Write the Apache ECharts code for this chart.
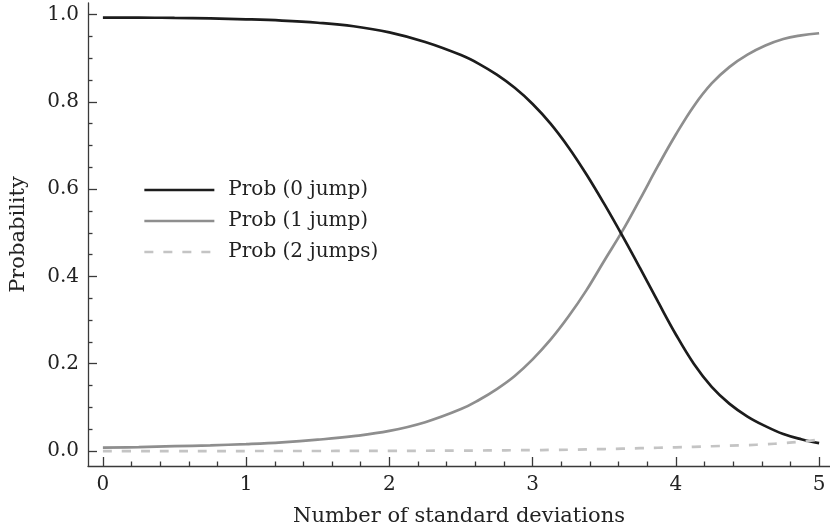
<!DOCTYPE html>
<html>
<head>
<meta charset="utf-8">
<script src="https://cdn.jsdelivr.net/npm/echarts@6/dist/echarts.min.js"></script>
<style>
html,body{margin:0;padding:0;background:#fff;}
#chart{width:830px;height:532px;}
</style>
</head>
<body>
<div id="chart"></div>
<script>
// Number of standard deviations
var xValues = [0, 0.25, 0.5, 0.75, 1.0, 1.25, 1.5, 1.75, 2.0, 2.25, 2.5, 2.625, 2.75, 2.875, 3.0, 3.125, 3.25, 3.375, 3.5, 3.625, 3.75, 3.875, 4.0, 4.125, 4.25, 4.375, 4.5, 4.625, 4.75, 4.875, 5.0];
var prob0Jump = [0.993, 0.993, 0.992, 0.991, 0.989, 0.986, 0.981, 0.973, 0.959, 0.937, 0.907, 0.887, 0.862, 0.832, 0.795, 0.750, 0.696, 0.634, 0.566, 0.494, 0.419, 0.342, 0.267, 0.200, 0.147, 0.108, 0.079, 0.057, 0.039, 0.027, 0.018];
var prob1Jump = [0.008, 0.009, 0.011, 0.013, 0.016, 0.020, 0.026, 0.034, 0.046, 0.066, 0.096, 0.117, 0.142, 0.172, 0.210, 0.255, 0.308, 0.368, 0.436, 0.503, 0.577, 0.653, 0.725, 0.790, 0.842, 0.880, 0.908, 0.929, 0.944, 0.952, 0.957];
var prob2Jumps = [0.0, 0.0, 0.0, 0.0, 0.0, 0.0001, 0.0001, 0.0002, 0.0004, 0.0006, 0.001, 0.0012, 0.0015, 0.0018, 0.002, 0.0025, 0.003, 0.0037, 0.0045, 0.0055, 0.0065, 0.0075, 0.0085, 0.0097, 0.011, 0.0122, 0.0135, 0.0155, 0.018, 0.0215, 0.026];
var seriesNames = ['Prob (0 jump)', 'Prob (1 jump)', 'Prob (2 jumps)'];
var xMajorTicks = [0, 1, 2, 3, 4, 5];
var xMinorTicks = [0.2, 0.4, 0.6, 0.8, 1.2, 1.4, 1.6, 1.8, 2.2, 2.4, 2.6, 2.8, 3.2, 3.4, 3.6, 3.8, 4.2, 4.4, 4.6, 4.8];
var yMajorTicks = [0, 0.2, 0.4, 0.6, 0.8, 1.0];
var yMinorTicks = [0.05, 0.1, 0.15, 0.25, 0.3, 0.35, 0.45, 0.5, 0.55, 0.65, 0.7, 0.75, 0.85, 0.9, 0.95];

function pairs(ys) { return xValues.map(function (x, i) { return [x, ys[i]]; }); }

var FONT = 'DejaVu Serif';
var axisColor = '#3a3a3a';
var textColor = '#222';
var X_MIN = -0.104, X_MAX = 5.076, Y_MIN = -0.0343, Y_MAX = 1.0263;
var colors = ['#1c1c1c', '#8e8e8e', '#c4c4c4'];
var dash = [9, 10];

var chart = echarts.init(document.getElementById('chart'), null, {renderer: 'canvas'});
chart.setOption({
  animation: false,
  backgroundColor: '#fff',
  grid: {left: 84, right: 0, top: 3, bottom: 65},
  legend: {
    orient: 'vertical',
    left: 138,
    top: 175,
    itemWidth: 70,
    itemHeight: 20,
    itemGap: 11,
    data: [
      {name: seriesNames[0], lineStyle: {width: 2.7, color: colors[0], type: 'solid'}},
      {name: seriesNames[1], lineStyle: {width: 2.7, color: colors[1], type: 'solid'}},
      {name: seriesNames[2], lineStyle: {width: 2.7, color: colors[2], type: dash}}
    ],
    itemStyle: {opacity: 0},
    textStyle: {fontFamily: FONT, fontSize: 20, color: textColor, padding: [0, 0, 0, 9]}
  },
  xAxis: [
    {
      type: 'value', min: X_MIN, max: X_MAX, position: 'bottom',
      name: 'Number of standard deviations', nameLocation: 'middle', nameGap: 40,
      nameTextStyle: {fontFamily: FONT, fontSize: 21, color: textColor},
      axisLine: {show: true, onZero: false, lineStyle: {color: axisColor, width: 1.3}},
      axisTick: {show: true, inside: true, length: 9, customValues: xMajorTicks, lineStyle: {color: axisColor, width: 1.3}},
      splitLine: {show: false},
      axisLabel: {margin: 9, fontFamily: FONT, fontSize: 20, color: textColor, customValues: xMajorTicks,
        formatter: function (v) { return String(Math.round(v)); }}
    },
    {
      type: 'value', min: X_MIN, max: X_MAX, position: 'bottom', offset: 0,
      axisLine: {show: false, onZero: false},
      axisTick: {show: true, inside: true, length: 4.5, customValues: xMinorTicks, lineStyle: {color: axisColor, width: 1.3}},
      axisLabel: {show: false}, splitLine: {show: false}
    }
  ],
  yAxis: [
    {
      type: 'value', min: Y_MIN, max: Y_MAX, position: 'left',
      name: 'Probability', nameLocation: 'middle', nameGap: 59,
      nameTextStyle: {fontFamily: FONT, fontSize: 21, color: textColor},
      axisLine: {show: true, onZero: false, lineStyle: {color: axisColor, width: 1.3}},
      axisTick: {show: true, inside: true, length: 9, customValues: yMajorTicks, lineStyle: {color: axisColor, width: 1.3}},
      splitLine: {show: false},
      axisLabel: {margin: 9, fontFamily: FONT, fontSize: 20, color: textColor, customValues: yMajorTicks,
        formatter: function (v) { return v.toFixed(1); }}
    },
    {
      type: 'value', min: Y_MIN, max: Y_MAX, position: 'left', offset: 0,
      axisLine: {show: false, onZero: false},
      axisTick: {show: true, inside: true, length: 4.5, customValues: yMinorTicks, lineStyle: {color: axisColor, width: 1.3}},
      axisLabel: {show: false}, splitLine: {show: false}
    }
  ],
  series: [
    {
      name: seriesNames[0], type: 'line', xAxisIndex: 0, yAxisIndex: 0,
      data: pairs(prob0Jump), symbol: 'none', smooth: 0.4,
      lineStyle: {color: colors[0], width: 2.7}, itemStyle: {color: colors[0]}, z: 4
    },
    {
      name: seriesNames[1], type: 'line', xAxisIndex: 0, yAxisIndex: 0,
      data: pairs(prob1Jump), symbol: 'none', smooth: 0.4,
      lineStyle: {color: colors[1], width: 2.7}, itemStyle: {color: colors[1]}, z: 3
    },
    {
      name: seriesNames[2], type: 'line', xAxisIndex: 0, yAxisIndex: 0,
      data: pairs(prob2Jumps), symbol: 'none', smooth: 0.4,
      lineStyle: {color: colors[2], width: 2.7, type: dash}, itemStyle: {color: colors[2]}, z: 5
    }
  ]
});
</script>
</body>
</html>
